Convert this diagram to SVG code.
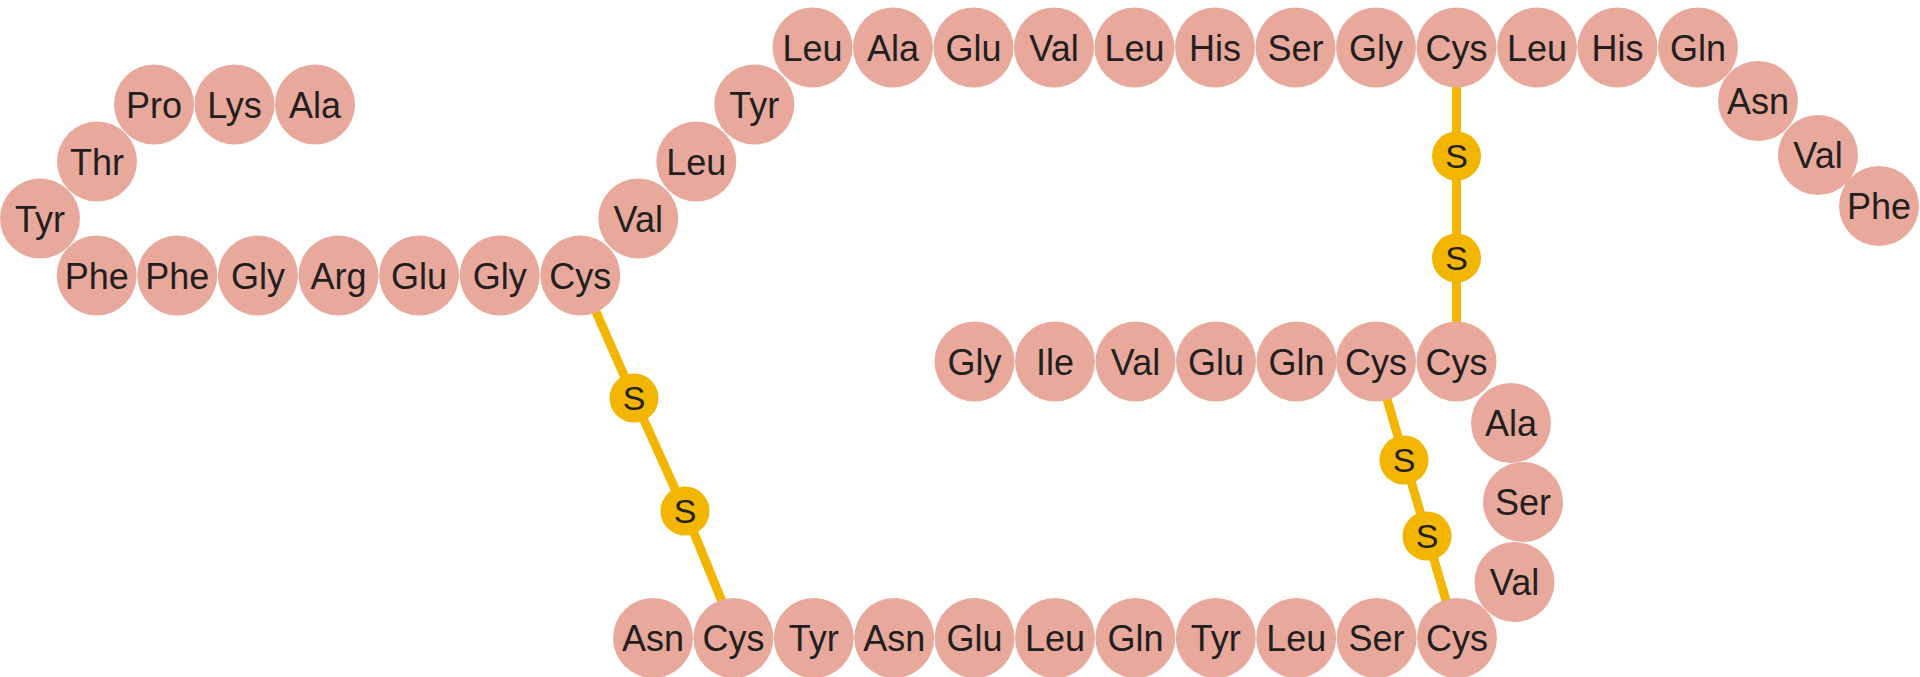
<svg xmlns="http://www.w3.org/2000/svg" width="1920" height="677" viewBox="0 0 1920 677">
  <style>
    .aa use { fill: #e8a99c; }
    .aa text, .s text { font-family: "Liberation Sans", Arial, sans-serif; fill: #231f20; text-anchor: middle; }
    .aa text { font-size: 36px; }
    .s use { fill: #f2b600; }
    .s text { font-size: 34px; }
    .bond { stroke: #f2b600; stroke-width: 9; fill: none; stroke-linecap: butt; }
  </style>
  <defs>
    <circle id="res" r="40"/>
    <circle id="sul" r="24.5"/>
  </defs>

  <!-- disulfide bridges -->
  <g id="connectors">
    <polyline class="bond" points="580,275.5 634,398 685,511 737,638"/>
    <line class="bond" x1="1456.5" y1="47.5" x2="1456.5" y2="361.5"/>
    <line class="bond" x1="1376" y1="361.5" x2="1457" y2="638"/>
  </g>

  <!-- chain A, N-terminal run -->
  <g id="a1" class="aa"><use href="#res" x="315" y="104.5"/><text x="315" y="117.5">Ala</text></g>
  <g id="a2" class="aa"><use href="#res" x="234.5" y="104.5"/><text x="234.5" y="117.5">Lys</text></g>
  <g id="a3" class="aa"><use href="#res" x="154" y="104.5"/><text x="154" y="117.5">Pro</text></g>
  <g id="a4" class="aa"><use href="#res" x="97" y="161.5"/><text x="97" y="174.5">Thr</text></g>
  <g id="a5" class="aa"><use href="#res" x="40" y="218.5"/><text x="40" y="231.5">Tyr</text></g>
  <g id="a6" class="aa"><use href="#res" x="96.7" y="275.5"/><text x="96.7" y="288.5">Phe</text></g>
  <g id="a7" class="aa"><use href="#res" x="177.3" y="275.5"/><text x="177.3" y="288.5">Phe</text></g>
  <g id="a8" class="aa"><use href="#res" x="257.9" y="275.5"/><text x="257.9" y="288.5">Gly</text></g>
  <g id="a9" class="aa"><use href="#res" x="338.5" y="275.5"/><text x="338.5" y="288.5">Arg</text></g>
  <g id="a10" class="aa"><use href="#res" x="419.1" y="275.5"/><text x="419.1" y="288.5">Glu</text></g>
  <g id="a11" class="aa"><use href="#res" x="499.7" y="275.5"/><text x="499.7" y="288.5">Gly</text></g>
  <g id="a12" class="aa"><use href="#res" x="580.3" y="275.5"/><text x="580.3" y="288.5">Cys</text></g>

  <!-- rising diagonal -->
  <g id="a13" class="aa"><use href="#res" x="638.3" y="218.5"/><text x="638.3" y="231.5">Val</text></g>
  <g id="a14" class="aa"><use href="#res" x="696.3" y="161.5"/><text x="696.3" y="174.5">Leu</text></g>
  <g id="a15" class="aa"><use href="#res" x="754.3" y="104.5"/><text x="754.3" y="117.5">Tyr</text></g>

  <!-- top row -->
  <g id="a16" class="aa"><use href="#res" x="812.5" y="47.5"/><text x="812.5" y="60.5">Leu</text></g>
  <g id="a17" class="aa"><use href="#res" x="893" y="47.5"/><text x="893" y="60.5">Ala</text></g>
  <g id="a18" class="aa"><use href="#res" x="973.5" y="47.5"/><text x="973.5" y="60.5">Glu</text></g>
  <g id="a19" class="aa"><use href="#res" x="1054" y="47.5"/><text x="1054" y="60.5">Val</text></g>
  <g id="a20" class="aa"><use href="#res" x="1134.5" y="47.5"/><text x="1134.5" y="60.5">Leu</text></g>
  <g id="a21" class="aa"><use href="#res" x="1215" y="47.5"/><text x="1215" y="60.5">His</text></g>
  <g id="a22" class="aa"><use href="#res" x="1295.5" y="47.5"/><text x="1295.5" y="60.5">Ser</text></g>
  <g id="a23" class="aa"><use href="#res" x="1376" y="47.5"/><text x="1376" y="60.5">Gly</text></g>
  <g id="a24" class="aa"><use href="#res" x="1456.5" y="47.5"/><text x="1456.5" y="60.5">Cys</text></g>
  <g id="a25" class="aa"><use href="#res" x="1537" y="47.5"/><text x="1537" y="60.5">Leu</text></g>
  <g id="a26" class="aa"><use href="#res" x="1617.5" y="47.5"/><text x="1617.5" y="60.5">His</text></g>
  <g id="a27" class="aa"><use href="#res" x="1698" y="47.5"/><text x="1698" y="60.5">Gln</text></g>

  <!-- falling tail -->
  <g id="a28" class="aa"><use href="#res" x="1758" y="101"/><text x="1758" y="114">Asn</text></g>
  <g id="a29" class="aa"><use href="#res" x="1818" y="155"/><text x="1818" y="168">Val</text></g>
  <g id="a30" class="aa"><use href="#res" x="1879" y="206"/><text x="1879" y="219">Phe</text></g>

  <!-- chain B, middle row -->
  <g id="b1" class="aa"><use href="#res" x="974.5" y="361.5"/><text x="974.5" y="374.5">Gly</text></g>
  <g id="b2" class="aa"><use href="#res" x="1055" y="361.5"/><text x="1055" y="374.5">Ile</text></g>
  <g id="b3" class="aa"><use href="#res" x="1135.5" y="361.5"/><text x="1135.5" y="374.5">Val</text></g>
  <g id="b4" class="aa"><use href="#res" x="1216" y="361.5"/><text x="1216" y="374.5">Glu</text></g>
  <g id="b5" class="aa"><use href="#res" x="1296.5" y="361.5"/><text x="1296.5" y="374.5">Gln</text></g>
  <g id="b6" class="aa"><use href="#res" x="1376" y="361.5"/><text x="1376" y="374.5">Cys</text></g>
  <g id="b7" class="aa"><use href="#res" x="1456.5" y="361.5"/><text x="1456.5" y="374.5">Cys</text></g>

  <!-- right-hand curve -->
  <g id="b8" class="aa"><use href="#res" x="1511" y="423"/><text x="1511" y="436">Ala</text></g>
  <g id="b9" class="aa"><use href="#res" x="1523" y="502"/><text x="1523" y="515">Ser</text></g>
  <g id="b10" class="aa"><use href="#res" x="1514.5" y="582"/><text x="1514.5" y="595">Val</text></g>

  <!-- bottom row -->
  <g id="b11" class="aa"><use href="#res" x="1457" y="638"/><text x="1457" y="651">Cys</text></g>
  <g id="b12" class="aa"><use href="#res" x="1376.6" y="638"/><text x="1376.6" y="651">Ser</text></g>
  <g id="b13" class="aa"><use href="#res" x="1296.2" y="638"/><text x="1296.2" y="651">Leu</text></g>
  <g id="b14" class="aa"><use href="#res" x="1215.8" y="638"/><text x="1215.8" y="651">Tyr</text></g>
  <g id="b15" class="aa"><use href="#res" x="1135.4" y="638"/><text x="1135.4" y="651">Gln</text></g>
  <g id="b16" class="aa"><use href="#res" x="1055" y="638"/><text x="1055" y="651">Leu</text></g>
  <g id="b17" class="aa"><use href="#res" x="974.6" y="638"/><text x="974.6" y="651">Glu</text></g>
  <g id="b18" class="aa"><use href="#res" x="894.2" y="638"/><text x="894.2" y="651">Asn</text></g>
  <g id="b19" class="aa"><use href="#res" x="813.8" y="638"/><text x="813.8" y="651">Tyr</text></g>
  <g id="b20" class="aa"><use href="#res" x="733.4" y="638"/><text x="733.4" y="651">Cys</text></g>
  <g id="b21" class="aa"><use href="#res" x="653" y="638"/><text x="653" y="651">Asn</text></g>

  <!-- sulfur atoms -->
  <g id="s1" class="s"><use href="#sul" x="634" y="398"/><text x="634" y="410">S</text></g>
  <g id="s2" class="s"><use href="#sul" x="685" y="511"/><text x="685" y="523">S</text></g>
  <g id="s3" class="s"><use href="#sul" x="1456.5" y="156"/><text x="1456.5" y="168">S</text></g>
  <g id="s4" class="s"><use href="#sul" x="1456.5" y="258"/><text x="1456.5" y="270">S</text></g>
  <g id="s5" class="s"><use href="#sul" x="1404" y="460"/><text x="1404" y="472">S</text></g>
  <g id="s6" class="s"><use href="#sul" x="1427" y="536"/><text x="1427" y="548">S</text></g>
</svg>
